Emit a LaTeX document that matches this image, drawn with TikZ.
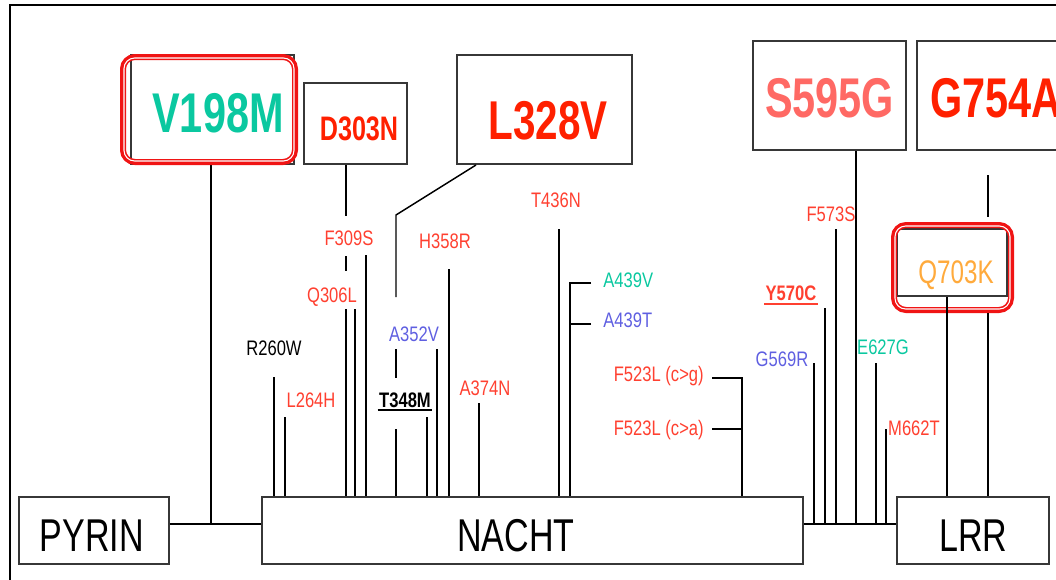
\documentclass[tikz,border=0pt]{standalone}
\usepackage{fontspec}
\setmainfont{Liberation Sans}
\newfontfamily\af{Liberation Sans}[FakeStretch=0.74]
\newfontfamily\afs{Liberation Sans}[FakeStretch=0.79]
\usetikzlibrary{fit}
\definecolor{lred}{RGB}{255,64,48}
\definecolor{bred}{RGB}{255,32,0}
\definecolor{salmon}{RGB}{255,105,100}
\definecolor{teal1}{RGB}{10,200,160}
\definecolor{blu}{RGB}{95,95,225}
\definecolor{orng}{RGB}{255,170,60}
\definecolor{hlred}{RGB}{240,20,20}
\definecolor{boxgray}{RGB}{55,55,55}
\tikzset{
  lab/.style={inner sep=0, anchor=base, font=\afs\fontsize{15.75}{16}\selectfont},
  labb/.style={inner sep=0, anchor=base, font=\afs\bfseries\fontsize{15.75}{16}\selectfont},
  big/.style={inner sep=0, anchor=base, font=\af\bfseries\fontsize{#1}{#1}\selectfont},
  big/.default=42,
  mid/.style={inner sep=0, anchor=base, font=\af\fontsize{#1}{#1}\selectfont},
  dom/.style={inner sep=0, anchor=base, font=\af\fontsize{34.5}{35}\selectfont},
  box/.style={draw=boxgray, line width=1.5pt, fill=white, inner sep=0},
  hl/.style={draw=hlred, line width=4.5pt, rounded corners=9pt, inner sep=0},
  hlin/.style={draw=white, line width=0.8pt, rounded corners=8pt},
  conn/.style={line width=1.1pt, draw=black}
}
\begin{document}
\begin{tikzpicture}[x=0.75pt,y=-0.75pt]
\useasboundingbox (0,0) rectangle (1056,579);
\clip (0,0) rectangle (1056,579);
% frame
\draw[line width=1.5pt] (10,600) -- (10,4.5) -- (1070,4.5);

% boxes
\node[box, fit={(19,497) (169,564)}] (pyrin) {};
\node[box, fit={(262,497) (803,564)}] (nacht) {};
\node[box, fit={(897,497) (1049,564)}] (lrr) {};
\node[box, fit={(131,55) (294,164)}] (v198) {};
\node[box, fit={(304,83) (407,164)}] (d303) {};
\node[box, fit={(457,55) (632,164)}] (l328) {};
\node[box, fit={(753,41) (906,150)}] (s595) {};
\node[box, fit={(917,41) (1075,150)}] (g754) {};
\node[box, fit={(897,229) (1007,296)}] (q703) {};

% box texts
\node[dom] (pyrint) at (92,551) {PYRIN};
\node[dom] (nachtt) at (516,551) {NACHT};
\node[dom] (lrrt) at (973.5,551) {LRR};
\node[big=42, text=teal1] (v198t) at (218,132) {V198M};
\node[big=25.5, text=bred] (d303t) at (359,140) {D303N};
\node[big=41, text=bred] (l328t) at (548,139) {L328V};
\node[big=42, text=salmon] (s595t) at (829.5,117) {S595G};
\node[big=42, text=bred, anchor=base west] (g754t) at (930,117) {G754A};
\node[mid=24.5, text=orng] (q703t) at (956,283) {Q703K};

% domain connectors
\coordinate (j1) at (211,524);
\draw[conn] (pyrin.east |- j1) -- (nacht.west |- j1);
\draw[conn] (nacht.east |- j1) -- (lrr.west |- j1);
\draw[conn] (v198.south -| j1) -- (j1);

% lines onto NACHT
\foreach \n/\x/\y in {r260/274/377, l264/285/417, q306a/346/309, q306b/355/309,
  f309/366/255, t348a/396/429, t348b/427/417, a352/437/349, h358/449/269,
  a374/479/403, t436/559/229}
  {\coordinate (\n) at (\x,\y); \draw[conn] (\n) -- (\n |- nacht.north);}

\coordinate (d303e) at (346,216);
\draw[conn] (d303.south -| d303e) -- (d303e);
\coordinate (f309s1) at (346,256); \coordinate (f309s2) at (346,271);
\draw[conn] (f309s1) -- (f309s2);
\coordinate (l328k) at (396,215); \coordinate (l328e) at (396,297);
\draw[conn] ([xshift=15pt]l328.south west) -- (l328k) -- (l328e);
\coordinate (a352s1) at (396,349); \coordinate (a352s2) at (396,378);
\draw[conn] (a352s1) -- (a352s2);

% brackets
\coordinate (a439k) at (570,283); \coordinate (a439v) at (591,283); \coordinate (a439t) at (591,324);
\draw[conn] (a439v) -- (a439k) -- (a439k |- nacht.north);
\draw[conn] (a439t) -- (a439t -| a439k);
\coordinate (f523k) at (742,378); \coordinate (f523g) at (712,378); \coordinate (f523a) at (712,429);
\draw[conn] (f523g) -- (f523k) -- (f523k |- nacht.north);
\draw[conn] (f523a) -- (f523a -| f523k);

% lines onto NACHT-LRR linker
\foreach \n/\x/\y in {g569/814/363, y570/825/308, f573/836/229, e627/876/363, m662/886/429}
  {\coordinate (\n) at (\x,\y); \draw[conn] (\n) -- (\n |- j1);}
\coordinate (s595e) at (856,524);
\draw[conn] (s595.south -| s595e) -- (s595e);

% highlight frames
\node[hl, fit={(123,57) (295,162)}] (v198hl) {};
\draw[hlin] (124,58) rectangle (294,161);
\node[hl, fit={(894,225) (1011,310)}] (q703hl) {};
\draw[hlin] (895,226) rectangle (1010,309);

% LRR lines
\coordinate (q703x) at (947,300);
\draw[conn] (q703.south -| q703x) -- (q703x |- lrr.north);
\coordinate (g754a) at (988,175); \coordinate (g754b) at (988,217);
\draw[conn] (g754a) -- (g754b);
\draw[conn] (q703hl.south -| g754a) -- (g754a |- lrr.north);

% mutation labels
\node[lab] (r260wl) at (274,355) {R260W};
\node[lab, text=lred] (l264hl) at (311,407) {L264H};
\node[lab, text=lred] (f309sl) at (349,245) {F309S};
\node[lab, text=lred] (q306ll) at (332,302) {Q306L};
\node[lab, text=lred] (h358rl) at (445,248) {H358R};
\node[lab, text=blu] (a352vl) at (414,341) {A352V};
\node[labb] (t348ml) at (405,407) {T348M};
\node[lab, text=lred] (a374nl) at (485,395) {A374N};
\node[lab, text=lred] (t436nl) at (556,207) {T436N};
\node[lab, text=teal1, anchor=base west] (a439vl) at (603,287) {A439V};
\node[lab, text=blu, anchor=base west] (a439tl) at (603,327) {A439T};
\node[lab, text=lred, anchor=base east] (f523gl) at (704,381) {F523L (c>g)};
\node[lab, text=lred, anchor=base east] (f523al) at (704,435) {F523L (c>a)};
\node[lab, text=lred] (f573sl) at (831,221) {F573S};
\node[labb, text=lred] (y570cl) at (791,300) {Y570C};
\node[lab, text=blu] (g569rl) at (782,366) {G569R};
\node[lab, text=teal1] (e627gl) at (883,354) {E627G};
\node[lab, text=lred] (m662tl) at (914,435) {M662T};

% underlines
\draw[line width=1.1pt] ([xshift=-1pt,yshift=-2.4pt]t348ml.base west) -- ([xshift=1pt,yshift=-2.4pt]t348ml.base east);
\draw[line width=1.1pt, lred] ([xshift=-1pt,yshift=-3pt]y570cl.base west) -- ([xshift=1pt,yshift=-3pt]y570cl.base east);
\end{tikzpicture}
\end{document}
